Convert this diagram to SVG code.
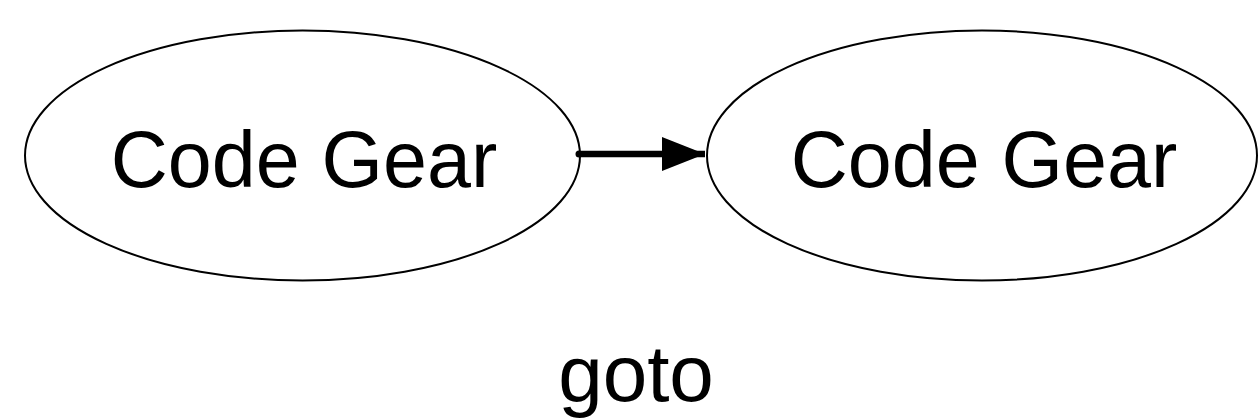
<svg xmlns="http://www.w3.org/2000/svg" width="1260" height="420" viewBox="0 0 1260 420">
<style>
.node ellipse{fill:#fff;stroke:#000;stroke-width:2}
.lbl{font-family:"Liberation Sans",Arial,sans-serif;font-size:79px;fill:#000;text-anchor:middle}
</style>
<defs>
<marker id="ah" markerUnits="userSpaceOnUse" markerWidth="44" markerHeight="34" refX="43" refY="17" orient="auto">
<path d="M0,0 L43,17 L0,34 Z" fill="#000"/>
</marker>
</defs>
<rect width="1260" height="420" fill="#fff"/>
<g id="node1" class="node">
<ellipse cx="302.5" cy="155.5" rx="277.5" ry="125"/>
<text class="lbl" x="304" y="187">Code Gear</text>
</g>
<g id="node2" class="node">
<ellipse cx="982" cy="155.5" rx="275" ry="125"/>
<text class="lbl" x="984" y="187">Code Gear</text>
</g>
<g id="connectors">
<circle cx="579" cy="154" r="3.5" fill="#000"/>
<line x1="579" y1="154" x2="705" y2="154" stroke="#000" stroke-width="6.5" marker-end="url(#ah)"/>
</g>
<text class="lbl" x="636" y="401" style="font-size:80px">goto</text>
</svg>
